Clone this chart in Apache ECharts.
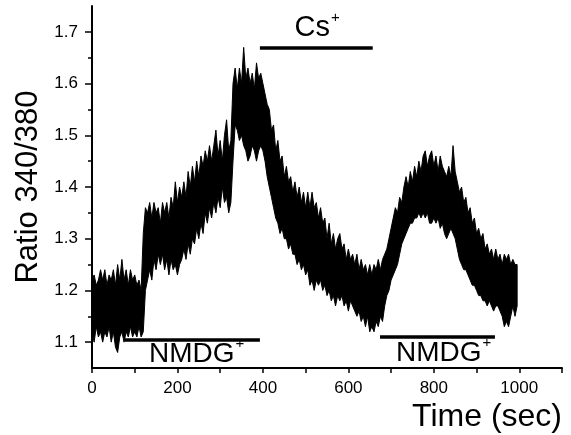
<!DOCTYPE html>
<html>
<head>
<meta charset="utf-8">
<script src="https://cdn.jsdelivr.net/npm/echarts@6/dist/echarts.min.js"></script>
<style>
html,body{margin:0;padding:0;background:#fff;}
#c{width:571px;height:435px;}
</style>
</head>
<body>
<div id="c"></div>
<script>
// sample times (sec)
const time = [
0,5,10,15,20,25,30,35,40,45,50,55,60,65,70,75,80,85,90,95,
100,105,110,115,120,125,130,135,140,145,150,155,160,165,170,175,180,185,190,195,
200,205,210,215,220,225,230,235,240,245,250,255,260,265,270,275,280,285,290,295,
300,305,310,315,320,325,330,335,340,345,350,355,360,365,370,375,380,385,390,395,
400,405,410,415,420,425,430,435,440,445,450,455,460,465,470,475,480,485,490,495,
500,505,510,515,520,525,530,535,540,545,550,555,560,565,570,575,580,585,590,595,
600,605,610,615,620,625,630,635,640,645,650,655,660,665,670,675,680,685,690,695,
700,705,710,715,720,725,730,735,740,745,750,755,760,765,770,775,780,785,790,795,
800,805,810,815,820,825,830,835,840,845,850,855,860,865,870,875,880,885,890,895,
900,905,910,915,920,925,930,935,940,945,950,955,960,965,970,975,980,985,990,995
];
// upper edge of the noisy ratio trace
const upper = [
1.22,1.23,1.21,1.22,1.24,1.22,1.24,1.21,1.23,1.22,
1.24,1.21,1.25,1.22,1.26,1.22,1.24,1.21,1.24,1.22,
1.23,1.21,1.22,1.20,1.31,1.36,1.35,1.37,1.34,1.37,
1.35,1.36,1.33,1.37,1.35,1.37,1.34,1.38,1.36,1.41,
1.37,1.40,1.38,1.41,1.38,1.43,1.40,1.44,1.41,1.45,
1.42,1.46,1.44,1.47,1.45,1.48,1.45,1.48,1.51,1.46,
1.49,1.45,1.50,1.53,1.47,1.49,1.60,1.63,1.59,1.63,
1.60,1.67,1.61,1.63,1.60,1.62,1.59,1.64,1.61,1.62,
1.60,1.58,1.56,1.55,1.51,1.52,1.47,1.49,1.45,1.46,
1.42,1.44,1.41,1.42,1.39,1.41,1.38,1.40,1.37,1.39,
1.36,1.39,1.36,1.39,1.36,1.37,1.34,1.36,1.33,1.34,
1.30,1.33,1.29,1.31,1.28,1.30,1.31,1.28,1.29,1.26,
1.28,1.26,1.27,1.25,1.27,1.24,1.26,1.24,1.25,1.23,
1.25,1.23,1.25,1.24,1.26,1.24,1.26,1.27,1.28,1.30,
1.32,1.34,1.36,1.35,1.38,1.37,1.40,1.42,1.40,1.43,
1.41,1.44,1.42,1.45,1.43,1.46,1.47,1.44,1.46,1.47,
1.44,1.46,1.43,1.46,1.44,1.43,1.42,1.44,1.42,1.48,
1.43,1.41,1.39,1.40,1.37,1.38,1.35,1.36,1.33,1.34,
1.31,1.32,1.30,1.31,1.28,1.29,1.27,1.28,1.26,1.28,
1.26,1.27,1.25,1.27,1.26,1.27,1.25,1.26,1.25,1.25
];
// lower edge of the noisy ratio trace
const lower = [
1.12,1.10,1.13,1.11,1.12,1.10,1.12,1.11,1.13,1.10,
1.12,1.09,1.08,1.11,1.12,1.10,1.12,1.11,1.13,1.11,
1.12,1.11,1.13,1.11,1.12,1.20,1.22,1.24,1.22,1.26,
1.24,1.27,1.25,1.27,1.24,1.26,1.23,1.26,1.24,1.25,
1.23,1.25,1.26,1.28,1.26,1.29,1.27,1.30,1.29,1.32,
1.30,1.33,1.31,1.35,1.33,1.36,1.34,1.37,1.35,1.38,
1.36,1.40,1.37,1.38,1.35,1.37,1.45,1.52,1.51,1.49,
1.50,1.48,1.47,1.45,1.46,1.48,1.47,1.45,1.47,1.48,
1.47,1.45,1.42,1.40,1.38,1.36,1.34,1.33,1.31,1.32,
1.30,1.30,1.28,1.29,1.27,1.27,1.25,1.26,1.24,1.25,
1.23,1.24,1.21,1.22,1.20,1.22,1.21,1.22,1.20,1.21,
1.19,1.20,1.18,1.19,1.17,1.19,1.18,1.19,1.17,1.18,
1.16,1.18,1.17,1.16,1.15,1.16,1.14,1.15,1.13,1.15,
1.12,1.13,1.12,1.14,1.13,1.15,1.14,1.17,1.19,1.20,
1.22,1.23,1.24,1.25,1.27,1.29,1.30,1.31,1.32,1.33,
1.33,1.34,1.34,1.35,1.34,1.35,1.34,1.35,1.33,1.33,
1.34,1.33,1.34,1.32,1.33,1.31,1.30,1.31,1.32,1.31,
1.30,1.28,1.26,1.25,1.24,1.24,1.23,1.22,1.21,1.21,
1.20,1.19,1.19,1.18,1.18,1.17,1.18,1.17,1.16,1.17,
1.17,1.16,1.15,1.13,1.14,1.13,1.15,1.17,1.15,1.17
];
// application periods: [start, end, level]
const nmdgBar1 = [77, 393, 1.104];
const nmdgBar2 = [674, 943, 1.110];
const csBar = [393, 657, 1.669];
// annotation labels: [text, t, level]
const labelNmdg1 = ['NMDG', 245, 1.077];
const labelNmdg2 = ['NMDG', 823, 1.079];
const labelCs = ['Cs', 527, 1.707];
// ticks
const xTickLabels = [0, 200, 400, 600, 800, 1000];
const xTicks = [0, 100, 200, 300, 400, 500, 600, 700, 800, 900, 1000, 1100];
const yTickLabels = [1.1, 1.2, 1.3, 1.4, 1.5, 1.6, 1.7];
const yMinorTicks = [1.15, 1.25, 1.35, 1.45, 1.55, 1.65];

const FONT = '"Liberation Sans", Arial, sans-serif';
const chart = echarts.init(document.getElementById('c'), null, {renderer: 'canvas'});

function barSeries(b) {
  return {
    type: 'line', data: [[b[0], b[2]], [b[1], b[2]]], symbol: 'none',
    lineStyle: {color: '#000', width: 3.5}, silent: true, z: 5
  };
}

// trace band: polygon through upper edge then back along lower edge
const traceSeries = {
  type: 'custom', silent: true, z: 3, clip: true,
  data: [[time[0], upper[0]]],
  renderItem: function (params, api) {
    const pts = [];
    for (let i = 0; i < time.length; i++) pts.push(api.coord([time[i], upper[i]]));
    for (let i = time.length - 1; i >= 0; i--) pts.push(api.coord([time[i], lower[i]]));
    return {
      type: 'polygon', shape: {points: pts},
      style: {fill: '#000', stroke: '#000', lineWidth: 1}
    };
  }
};

chart.setOption({
  animation: false,
  backgroundColor: '#fff',
  grid: {left: 92, right: 9, top: 6, bottom: 67, containLabel: false},
  xAxis: {
    type: 'value', min: 0, max: 1100,
    axisLine: {show: true, lineStyle: {color: '#000', width: 2}},
    axisTick: {show: true, customValues: xTicks, length: 5, lineStyle: {color: '#000', width: 1.5}},
    axisLabel: {customValues: xTickLabels, fontFamily: FONT, fontSize: 17, color: '#000', margin: 12,
      formatter: v => String(v)},
    splitLine: {show: false}
  },
  yAxis: [{
    type: 'value', min: 1.05, max: 1.75,
    name: 'Ratio 340/380', nameLocation: 'middle', nameGap: 42, nameRotate: 90,
    nameTextStyle: {fontFamily: FONT, fontSize: 31, color: '#000'},
    axisLine: {show: true, lineStyle: {color: '#000', width: 2}},
    axisTick: {show: true, customValues: yTickLabels, length: 7, lineStyle: {color: '#000', width: 1.5}},
    axisLabel: {customValues: yTickLabels, fontFamily: FONT, fontSize: 17, color: '#000', margin: 14,
      formatter: v => v.toFixed(1)},
    splitLine: {show: false}
  }, {
    type: 'value', min: 1.05, max: 1.75, position: 'left',
    axisLine: {show: false},
    axisTick: {show: true, customValues: yMinorTicks, length: 4, lineStyle: {color: '#000', width: 1.5}},
    axisLabel: {show: false},
    splitLine: {show: false}
  }],
  series: [
    traceSeries,
    barSeries(nmdgBar1), barSeries(nmdgBar2), barSeries(csBar)
  ]
});

// annotation texts placed through the chart's own coordinate conversion
function labelGraphic(l, size) {
  const p = chart.convertToPixel({gridIndex: 0}, [l[1], l[2]]);
  return {
    type: 'text', x: p[0], y: p[1], z: 10, silent: true,
    style: {
      text: l[0] + '{s|+}', fill: '#000', font: size + 'px ' + FONT,
      align: 'center', verticalAlign: 'middle',
      rich: {s: {fontFamily: FONT, fontSize: 15, fill: '#000', padding: [0, 0, 21, 1]}}
    }
  };
}
chart.setOption({
  graphic: [
    {type: 'text', right: 9, top: 401, silent: true,
     style: {text: 'Time (sec)', font: '32px ' + FONT, fill: '#000'}},
    labelGraphic(labelNmdg1, 28),
    labelGraphic(labelNmdg2, 28),
    labelGraphic(labelCs, 29)
  ]
});
</script>
</body>
</html>
